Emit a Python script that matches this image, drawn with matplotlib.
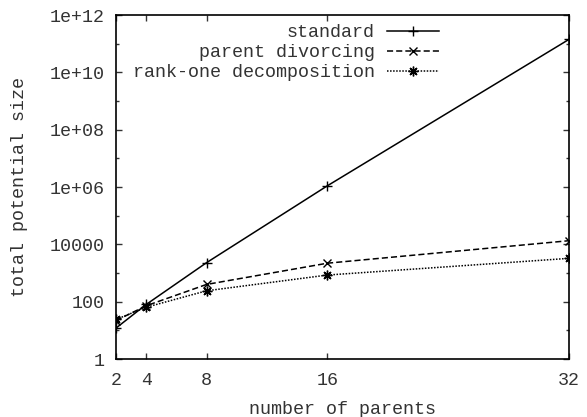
import numpy as np
import matplotlib
matplotlib.use('Agg')
import matplotlib.pyplot as plt
from matplotlib.ticker import FixedLocator, NullFormatter

# values
parents = [2, 4, 8, 16, 32]
standard = [12, 80, 2300, 1.1e6, 1.4e11]
divorcing = [22, 72, 400, 2200, 13400]
rank_one = [24, 64, 240, 850, 3250]

ytick_vals = [1, 1e2, 1e4, 1e6, 1e8, 1e10, 1e12]
ytick_labels = ['1', '100', '10000', '1e+06', '1e+08', '1e+10', '1e+12']

plt.rcParams['font.family'] = ['Liberation Mono', 'DejaVu Sans Mono']
plt.rcParams['font.size'] = 13.2

fig = plt.figure(figsize=(5.87, 4.17), dpi=100)
ax = fig.add_axes([0.1976, 0.139, 0.7714, 0.825])

ax.plot(parents, standard, '-', color='black', lw=1.1,
        marker='+', ms=7, mew=1.0, label='standard')
ax.plot(parents, divorcing, '--', color='black', lw=1.1, dashes=(4, 2),
        marker='x', ms=6, mew=1.0, label='parent divorcing')
ax.plot(parents, rank_one, ':', color='black', lw=1.1, dashes=(1, 1),
        marker=(8, 2, 0), ms=7, mew=1.0, label='rank-one decomposition')

ax.set_yscale('log')
ax.set_xlim(2, 32)
ax.set_ylim(1, 1e12)
ax.set_xticks(parents)
ax.set_xticklabels([str(p) for p in parents])
ax.yaxis.set_major_locator(FixedLocator(ytick_vals))
ax.set_yticklabels(ytick_labels)
ax.yaxis.set_minor_locator(FixedLocator([10 ** k for k in range(1, 12, 2)]))
ax.yaxis.set_minor_formatter(NullFormatter())
ax.xaxis.set_minor_locator(FixedLocator([]))

ax.tick_params(which='major', direction='in', length=4.5, width=1.0,
               top=True, right=True, pad=8, colors='#333333', labelcolor='#333333')
ax.tick_params(which='minor', direction='in', length=2.3, width=1.0,
               top=False, right=True, colors='#333333')
ax.tick_params(axis='x', which='major', pad=9)
for s in ax.spines.values():
    s.set_linewidth(1.2)

ax.set_xlabel('number of parents', color='#333333', labelpad=9)
ax.set_ylabel('total potential size', color='#333333', labelpad=16)

leg = ax.legend(loc='upper right', bbox_to_anchor=(0.729, 0.995), frameon=False,
                markerfirst=False, handlelength=2.8, labelspacing=0.17,
                handletextpad=0.7, borderaxespad=0.0)
for t in leg.get_texts():
    t.set_ha('right')
    t.set_color('#333333')
leg._legend_box.align = 'right'

fig.savefig('out.png', dpi=100)
